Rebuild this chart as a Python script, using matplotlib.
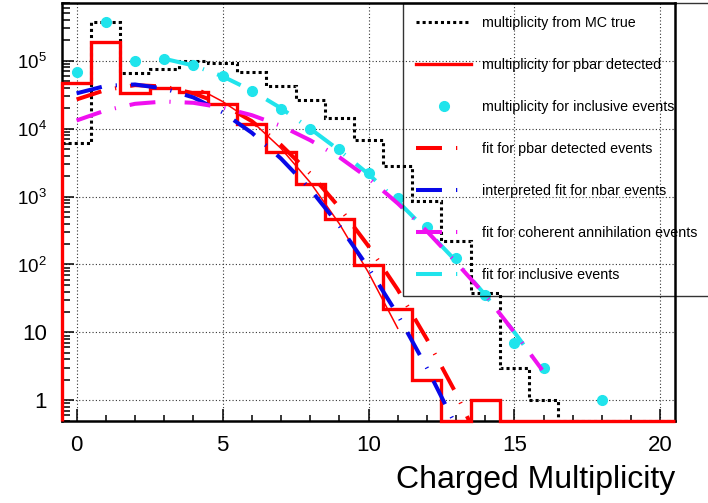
import numpy as np
import matplotlib
matplotlib.use("Agg")
import matplotlib.pyplot as plt
from matplotlib.lines import Line2D
from matplotlib.ticker import FixedLocator, MultipleLocator, LogLocator, NullFormatter

plt.rcParams['font.family'] = ['Liberation Sans', 'DejaVu Sans']
plt.rcParams['mathtext.fontset'] = 'custom'
plt.rcParams['mathtext.rm'] = 'Liberation Sans'
plt.rcParams['mathtext.it'] = 'Liberation Sans'
plt.rcParams['lines.scale_dashes'] = False

# multiplicity histograms, one bin per charged multiplicity 0..20
edges = np.arange(-0.5, 21.0, 1.0)
mc_true = [6200, 375000, 67000, 75500, 97500, 92000, 68900, 42800, 26400, 14200,
           6790, 2840, 860, 223, 37.5, 2.95, 1.0, 0, 0, 0, 0]
pbar_detected = [47400, 187000, 33800, 39000, 34900, 22700, 11700, 4520, 1510, 460,
                 97, 22.3, 2.0, 0, 1.0, 0, 0, 0, 0, 0, 0]

# inclusive events (points)
incl_x = [0, 1, 2, 3, 4, 5, 6, 7, 8, 9, 10, 11, 12, 13, 14, 15, 16, 18]
incl_y = [68900, 375000, 100000, 105000, 86500, 59000, 35500, 19300, 10000, 4950,
          2250, 950, 360, 125, 35.5, 7.0, 2.95, 1.0]

# fit attached to the pbar histogram
hfit_x = [4.3, 5, 6, 7, 8, 9, 10, 11]
hfit_y = [36300, 25100, 12900, 5130, 1620, 398, 75.9, 11.5]

# fit for pbar detected events
pfit_x = [0, 1, 2, 3, 4, 5, 6, 7, 8, 9, 10, 11, 12, 13, 13.5]
pfit_y = [26900, 37200, 43700, 41700, 33100, 22900, 12900, 5750, 2190, 692,
          186, 42.7, 7.94, 1.26, 0.447]

# interpreted fit for nbar events
nfit_x = [0, 1, 2, 3, 4, 5, 6, 7, 8, 9, 10, 11, 12, 13]
nfit_y = [33100, 42700, 44700, 38900, 28800, 17400, 8710, 3630, 1290, 372,
          89, 18.2, 3.0, 0.42]

# fit for coherent annihilation events
cfit_x = [0, 1, 2, 3, 4, 5, 6, 7, 8, 9, 10, 11, 12, 13, 14, 15, 15.95]
cfit_y = [13200, 18600, 23200, 25100, 24000, 20400, 15800, 11000, 6760, 3800,
          1860, 794, 309, 107, 35.5, 10.0, 2.8]

# fit for inclusive events
ifit_x = [3, 4, 5, 6, 7, 8, 9, 10, 11, 12, 13, 14, 15, 15.95]
ifit_y = [107000, 85100, 58900, 36300, 20000, 10000, 4790, 2140, 851, 316,
          112, 35.5, 10.0, 2.8]

labels = ['multiplicity from MC true', 'multiplicity for pbar detected',
          'multiplicity for inclusive events', 'fit for pbar detected events',
          'interpreted fit for nbar events', 'fit for coherent annihilation events',
          'fit for inclusive events']

RED = '#ff0000'
BLUE = '#0808e8'
MAGENTA = '#f010f0'
CYAN = '#20e4ec'
YMIN, YMAX = 0.496, 7.0e5

fit_dash = (0, (18.7, 10.1, 0.9, 10.1))
dot_style = (0, (2.2, 2.2))

fig = plt.figure(figsize=(7.08, 5.03), dpi=100)
ax = fig.add_axes([0.0876, 0.163, 0.8658, 0.8304])
ax.set_yscale('log')
ax.set_xlim(-0.5, 20.5)
ax.set_ylim(YMIN, YMAX)

# empty bins sit on the lower edge of the frame
ax.stairs(np.clip(mc_true, YMIN, None), edges, baseline=None, color='black',
          lw=2.2, ls=dot_style, zorder=2)
red_hist = ax.stairs(np.clip(pbar_detected, YMIN, None), edges, baseline=YMIN,
                     color=RED, lw=2.4, zorder=3)
red_hist.set_clip_on(False)

ax.plot(hfit_x, hfit_y, color=RED, lw=1.1, zorder=4)
ax.plot(pfit_x, pfit_y, color=RED, lw=2.9, ls=fit_dash, dash_capstyle='butt', zorder=4)
ax.plot(nfit_x, nfit_y, color=BLUE, lw=2.9, ls=fit_dash, dash_capstyle='butt', zorder=4)
ax.plot(ifit_x, ifit_y, color=CYAN, lw=2.9, ls=fit_dash, dash_capstyle='butt', zorder=4)
ax.plot(incl_x, incl_y, ls='none', marker='o', ms=7, color=CYAN, mec=CYAN, zorder=4)
ax.plot(cfit_x, cfit_y, color=MAGENTA, lw=2.9, ls=fit_dash, dash_capstyle='butt', zorder=4)

# axes, ticks and grid
ax.xaxis.set_major_locator(FixedLocator([0, 5, 10, 15, 20]))
ax.xaxis.set_minor_locator(MultipleLocator(1))
ax.set_yticks([1, 10, 1e2, 1e3, 1e4, 1e5],
              labels=['1', '10', r'$\mathregular{10^{2}}$', r'$\mathregular{10^{3}}$',
                      r'$\mathregular{10^{4}}$', r'$\mathregular{10^{5}}$'])
ax.yaxis.set_minor_locator(LogLocator(base=10, subs=np.arange(2, 10)))
ax.yaxis.set_minor_formatter(NullFormatter())
ax.tick_params(which='both', direction='in', top=False, right=False, width=1.1)
ax.tick_params(which='major', length=8.6)
ax.tick_params(axis='x', which='minor', length=4.3)
ax.tick_params(axis='y', which='minor', length=5.8)
ax.tick_params(axis='x', labelsize=16, pad=9.8)
ax.tick_params(axis='y', labelsize=16, pad=11)
for lab in ax.get_yticklabels()[2:]:
    lab.set_fontsize(13.5)
ax.set_axisbelow(True)
ax.grid(True, which='major', color='#333333', lw=0.8, ls=(0, (0.8, 1.6)))
for s in ax.spines.values():
    s.set_linewidth(1.8)

ax.set_xlabel('Charged Multiplicity', fontsize=23, ha='right', va='baseline')
ax.xaxis.set_label_coords(1.0, -0.160)

handles = [
    Line2D([], [], color='black', lw=2.2, ls=dot_style, dash_capstyle='butt'),
    Line2D([], [], color=RED, lw=2.4),
    Line2D([], [], ls='none', marker='o', ms=7, color=CYAN, mec=CYAN),
    Line2D([], [], color=RED, lw=2.9, ls=fit_dash, dash_capstyle='butt'),
    Line2D([], [], color=BLUE, lw=2.9, ls=fit_dash, dash_capstyle='butt'),
    Line2D([], [], color=MAGENTA, lw=2.9, ls=fit_dash, dash_capstyle='butt'),
    Line2D([], [], color=CYAN, lw=2.9, ls=fit_dash, dash_capstyle='butt'),
]
leg = ax.legend(handles, labels, loc='upper left',
                bbox_to_anchor=(403 / 708, 1 - 3 / 503), bbox_transform=fig.transFigure,
                borderaxespad=0, fontsize=10.3, handlelength=3.85, handletextpad=0.75,
                borderpad=0.92, labelspacing=1.96, fancybox=False, numpoints=1)
frame = leg.get_frame()
frame.set_facecolor('none')
frame.set_edgecolor('black')
frame.set_linewidth(1.0)

fig.savefig('out.png', dpi=100)
